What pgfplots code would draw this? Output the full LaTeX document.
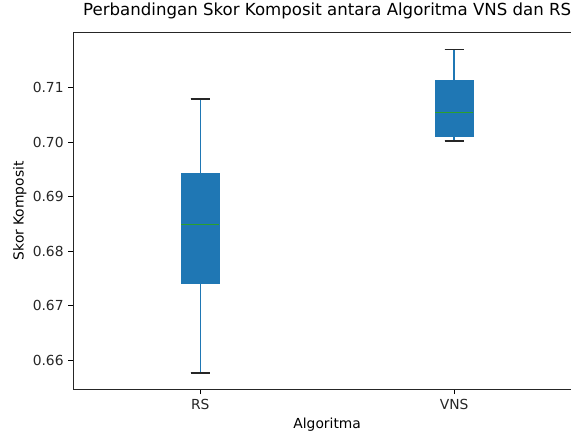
\documentclass[border=0pt]{standalone}
\usepackage{pgfplots}
\pgfplotsset{compat=1.18}
\usepgfplotslibrary{statistics}
\usepackage{fontspec}
\setmainfont{DejaVu Sans}
\definecolor{c0}{HTML}{1F77B4}
\definecolor{med}{HTML}{2CA02C}
\pgfplotsset{
  /pgfplots/boxplot/draw/whisker/.code 2 args={
    \draw[c0, line width=0.9pt] (boxplot cs:#1) -- (boxplot cs:#2);
    \draw[black!85, line width=0.9pt] (boxplot whisker cs:#2,0) -- (boxplot whisker cs:#2,1);
  },
}
\begin{document}
\begin{tikzpicture}
\begin{axis}[
  at={(0,0)}, anchor=south west,
  scale only axis,
  width=365.5bp, height=257bp,
  xmin=0.5, xmax=2.5,
  ymin=0.6547, ymax=0.7201,
  xtick={1,2}, xticklabels={RS,VNS},
  ytick={0.66,0.67,0.68,0.69,0.70,0.71},
  yticklabel style={/pgf/number format/fixed,/pgf/number format/precision=2,/pgf/number format/fixed zerofill},
  /pgf/number format/assume math mode=true,
  tick align=outside, tick pos=left,
  major tick length=3.5bp,
  every tick/.style={black, line width=0.6pt},
  axis line style={line width=0.6pt, black!85},
  tick label style={font=\fontsize{10}{12}\selectfont, text=black!85},
  title={Perbandingan Skor Komposit antara Algoritma VNS dan RS},
  title style={at={(axis description cs:0.5,1)}, anchor=base, yshift=6.5bp, font=\fontsize{12}{14}\selectfont},
  xlabel={Algoritma}, ylabel={Skor Komposit},
  every axis x label/.style={at={(axis description cs:0.5,0)}, anchor=center, yshift=-25.7bp, font=\fontsize{10}{12}\selectfont},
  every axis y label/.style={at={(axis description cs:-0.1053,0.5)}, anchor=center, rotate=90, font=\fontsize{10}{12}\selectfont},
  boxplot/draw direction=y,
  boxplot/box extend=0.15,
  boxplot/whisker extend=0.075,
  boxplot/every median/.style={draw=med, line width=0.8pt},
]
\addplot+[boxplot prepared={draw position=1, lower whisker=0.6577, lower quartile=0.6742, median=0.6849, upper quartile=0.6943, upper whisker=0.7079}, fill=c0, draw=c0, solid, mark=none] coordinates {};
\addplot+[boxplot prepared={draw position=2, lower whisker=0.7002, lower quartile=0.7011, median=0.7054, upper quartile=0.7114, upper whisker=0.7170}, fill=c0, draw=c0, solid, mark=none] coordinates {};
\end{axis}
\pgfresetboundingbox
\useasboundingbox (-52.8bp,-32.2bp) rectangle (358.3bp,280.3bp);
\end{tikzpicture}
\end{document}
